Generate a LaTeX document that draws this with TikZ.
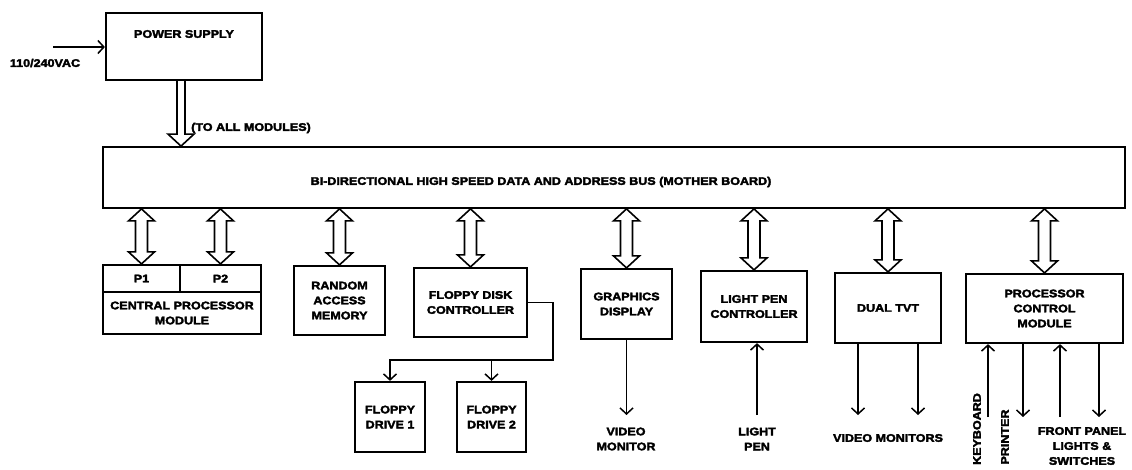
\documentclass[tikz,border=0pt]{standalone}
\usepackage{fontspec}
\setmainfont{Liberation Sans}[FakeStretch=1.14, BoldFeatures={FakeBold=3}]
\usetikzlibrary{arrows.meta,calc}
\newcommand\busarrow[1]{%
  \path let \p1=(#1.north), \p2=(bus.south) in
   [draw, line width=1.6pt, line join=miter, fill=white]
   (\x1,\y1) -- ({\x1-13pt},{\y1+12pt}) -- ({\x1-6pt},{\y1+12pt}) -- ({\x1-6pt},{\y2-12pt})
   -- ({\x1-13pt},{\y2-12pt}) -- (\x1,\y2) -- ({\x1+13pt},{\y2-12pt}) -- ({\x1+6pt},{\y2-12pt})
   -- ({\x1+6pt},{\y1+12pt}) -- ({\x1+13pt},{\y1+12pt}) -- cycle;}
\begin{document}
\begin{tikzpicture}[x=1pt,y=-1pt,
  box/.style={draw, line width=2.2pt, inner sep=0pt},
  lbl/.style={font=\fontsize{11}{15}\selectfont\bfseries, align=center, inner sep=0pt},
  thin/.style={line width=1.5pt, -{Straight Barb[length=6pt,width=13pt,line width=1.5pt]}},
]
\useasboundingbox (0,0) rectangle (1132,469);
% power supply
\node[box, minimum width=156pt, minimum height=67pt] (ps) at (184,46.5) {};
\node[lbl] (pst) at (184,34) {POWER SUPPLY};
\node[lbl] (ac) at (45,63) {110/240VAC};
\coordinate (acin) at (53,47);
\draw[thin] (acin) -- (acin -| ps.west);
% bus
\node[box, line width=1.8pt, minimum width=1022pt, minimum height=61pt] (bus) at (614,177.5) {};
\node[lbl] (bust) at (541,182) {BI-DIRECTIONAL HIGH SPEED DATA AND ADDRESS BUS (MOTHER BOARD)};
% power arrow
\path let \p1=(ps.south), \p2=(bus.north) in
  [draw, line width=1.6pt, line join=miter, fill=white]
  ({\x1-7pt},\y1) -- ({\x1-7pt},{\y2+12pt}) -- ({\x1-16pt},{\y2+12pt}) -- ({\x1-3pt},\y2)
  -- ({\x1+10pt},{\y2+12pt}) -- ({\x1+1pt},{\y2+12pt}) -- ({\x1+1pt},\y1);
\node[lbl, anchor=west] (tam) at (191,128) {(TO ALL MODULES)};
% modules
\node[box, minimum width=77pt, minimum height=27pt, lbl] (p1) at (141.5,278.5) {P1};
\node[box, minimum width=81pt, minimum height=27pt, lbl] (p2) at (220.5,278.5) {P2};
\node[box, minimum width=158pt, minimum height=42pt, lbl] (cpu) at (182,313) {CENTRAL PROCESSOR\\MODULE};
\node[box, minimum width=91pt, minimum height=69pt, lbl] (ram) at (339.5,300.5) {RANDOM\\ACCESS\\MEMORY};
\node[box, minimum width=113pt, minimum height=69pt, lbl] (fdc) at (470.5,302.5) {FLOPPY DISK\\CONTROLLER};
\node[box, minimum width=70pt, minimum height=70pt, lbl] (fd1) at (390,417) {FLOPPY\\DRIVE 1};
\node[box, minimum width=69pt, minimum height=70pt, lbl] (fd2) at (491.5,417) {FLOPPY\\DRIVE 2};
\node[box, minimum width=91pt, minimum height=70pt, lbl] (gd) at (626.5,304) {GRAPHICS\\DISPLAY};
\node[box, minimum width=106pt, minimum height=71pt, lbl] (lpc) at (754,306.5) {LIGHT PEN\\CONTROLLER};
\node[box, minimum width=106pt, minimum height=70pt, lbl] (tvt) at (888,308) {DUAL TVT};
\node[box, minimum width=157pt, minimum height=69pt, lbl] (pcm) at (1044.5,308.5) {PROCESSOR\\CONTROL\\MODULE};
% bus arrows
\busarrow{p1}\busarrow{p2}\busarrow{ram}\busarrow{fdc}\busarrow{gd}\busarrow{lpc}\busarrow{tvt}\busarrow{pcm}
% floppy connectors
\coordinate (j1) at (553,360);
\draw[thin, line width=1.8pt] (fdc.east) -| (j1) -| (fd1.north);
\draw[thin, line width=1.8pt] (fd2.north |- j1) -- (fd2.north);
% graphics
\coordinate (vm) at (626.5,415);
\draw[thin] (gd.south) -- (vm);
\node[lbl] (vmt) at (626,439) {VIDEO\\MONITOR};
% light pen
\coordinate (lp) at (757,415);
\draw[thin] (lp) -- (lp |- lpc.south);
\node[lbl] (lpt) at (757,439) {LIGHT\\PEN};
% tvt
\coordinate (v1) at (858,415);
\coordinate (v2) at (918,415);
\draw[thin] (v1 |- tvt.south) -- (v1);
\draw[thin] (v2 |- tvt.south) -- (v2);
\node[lbl] (vms) at (888,438) {VIDEO MONITORS};
% pcm
\coordinate (kb) at (988,417);
\coordinate (pr) at (1023,417);
\coordinate (fp1) at (1060,417);
\coordinate (fp2) at (1099,417);
\draw[thin] (kb) -- (kb |- pcm.south);
\draw[thin] (pr |- pcm.south) -- (pr);
\draw[thin] (fp1) -- (fp1 |- pcm.south);
\draw[thin] (fp2 |- pcm.south) -- (fp2);
\node[lbl, rotate=90] (kbt) at (977,429) {KEYBOARD};
\node[lbl, rotate=90] (prt) at (1005,437) {PRINTER};
\node[lbl] (fpt) at (1082,446) {FRONT PANEL\\LIGHTS \&\\SWITCHES};
\end{tikzpicture}
\end{document}
